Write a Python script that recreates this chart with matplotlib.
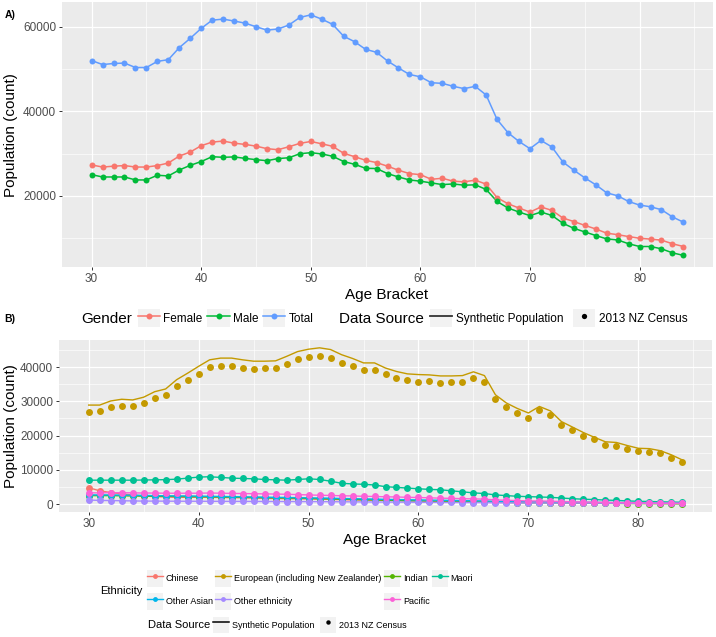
import numpy as np
import matplotlib
matplotlib.use("Agg")
import matplotlib.pyplot as plt
from matplotlib.lines import Line2D
from matplotlib.patches import Rectangle
from matplotlib.legend_handler import HandlerLine2D

plt.rcParams['font.family'] = ['Liberation Sans', 'DejaVu Sans']

# ---------------- data ----------------
ages = list(range(30, 85))

total = [52000, 51050, 51300, 51400, 50350, 50350, 51800, 52200, 55050, 57250,
         59600, 61550, 61800, 61350, 60850, 60000, 59200, 59450, 60400, 62200,
         62800, 61800, 60550, 57750, 56450, 54650, 53950, 51900, 50250, 48700,
         48150, 46750, 46600, 45900, 45350, 45900, 43850, 38050, 34900, 32850,
         31150, 33100, 31550, 28000, 26050, 24250, 22600, 20700, 20000, 18650,
         17800, 17400, 16700, 15000, 13750]
female = [27300, 26800, 27000, 27150, 26800, 26800, 27150, 27750, 29400, 30350,
          31850, 32700, 32950, 32450, 32150, 31750, 31150, 30900, 31600, 32400,
          32850, 32300, 31700, 30050, 29250, 28400, 27850, 27000, 26050, 25250,
          25000, 23900, 24150, 23450, 23300, 23700, 22750, 19550, 18100, 17100,
          16150, 17350, 16550, 14750, 13900, 13000, 12150, 11150, 10800, 10350,
          9950, 9750, 9500, 8650, 8000]
male = [25000, 24450, 24450, 24450, 23750, 23750, 24850, 24700, 26100, 27200,
        28100, 29250, 29100, 29200, 28850, 28550, 28300, 28800, 29000, 29950,
        30200, 29900, 29350, 28100, 27450, 26500, 26450, 25250, 24450, 23750,
        23450, 23050, 22650, 22800, 22500, 22600, 21500, 18650, 17100, 16150,
        15300, 16150, 15350, 13500, 12300, 11450, 10600, 9800, 9550, 8650,
        8000, 8000, 7450, 6500, 5900]

gender_names = ["Female", "Male", "Total"]
gender_colors = ["#F8766D", "#00BA38", "#619CFF"]

euro_synth = [28900, 28900, 30100, 30600, 30400, 31200, 32800, 33600, 36300, 38200,
              40200, 42100, 42600, 42600, 42100, 41700, 41700, 41800, 43100, 44500,
              45200, 45600, 45100, 43600, 42500, 41200, 41200, 39700, 38700, 38000,
              37800, 37700, 37400, 37400, 37500, 38600, 37500, 31900, 29500, 27900,
              26600, 28500, 27200, 24100, 22500, 20900, 19500, 18200, 18000, 17100,
              16300, 16200, 15600, 14400, 12900]
euro_census = [26950, 27150, 28200, 28700, 28700, 29600, 31100, 31700, 34400, 36100,
               37900, 40000, 40300, 40400, 39700, 39500, 39700, 39600, 41000, 42200,
               42900, 43300, 42600, 41200, 40400, 39200, 39200, 37900, 36900, 36200,
               35700, 35800, 35300, 35500, 35700, 36800, 35600, 30700, 28200, 26700,
               25200, 27400, 25900, 23000, 21700, 20000, 18900, 17400, 17000, 16000,
               15400, 15300, 14800, 13500, 12400]
chinese = [4800, 3900, 3400, 3000, 2700, 2400, 2200, 2100, 2000, 2000,
           2000, 2000, 1950, 1900, 1850, 1800, 1700, 1650, 1600, 1550,
           1500, 1450, 1400, 1300, 1250, 1200, 1150, 1100, 1050, 1000,
           950, 900, 850, 850, 800, 800, 750, 650, 600, 550,
           500, 500, 480, 450, 420, 400, 380, 350, 330, 310,
           300, 280, 260, 240, 220]
indian = [2500, 2500, 2500, 2450, 2400, 2350, 2300, 2300, 2250, 2200,
          2200, 2150, 2100, 2050, 2000, 1950, 1900, 1850, 1800, 1750,
          1700, 1600, 1550, 1450, 1400, 1300, 1250, 1150, 1100, 1000,
          950, 900, 850, 800, 750, 700, 650, 550, 500, 450,
          400, 400, 380, 340, 300, 280, 250, 230, 210, 190,
          170, 150, 140, 120, 100]
maori = [7000, 7000, 7000, 7000, 7000, 7050, 7100, 7150, 7300, 7600,
         7900, 8000, 7800, 7600, 7500, 7400, 7200, 7100, 7000, 7200,
         7400, 7200, 6700, 6100, 5900, 5800, 5600, 5100, 4900, 4700,
         4500, 4300, 4200, 3900, 3600, 3300, 3100, 2700, 2500, 2300,
         2200, 2100, 2000, 1800, 1600, 1450, 1350, 1200, 1100, 950,
         850, 780, 700, 620, 560]
other_asian = [2700, 2700, 2700, 2650, 2600, 2550, 2500, 2450, 2400, 2400,
               2350, 2300, 2250, 2200, 2150, 2100, 2050, 2000, 1950, 1900,
               1850, 1800, 1750, 1650, 1600, 1550, 1500, 1400, 1350, 1300,
               1250, 1200, 1150, 1100, 1050, 1000, 950, 850, 800, 750,
               700, 700, 650, 600, 580, 550, 520, 500, 480, 460,
               440, 420, 400, 380, 360]
other_eth = [1200, 1100, 1050, 1000, 950, 900, 900, 880, 860, 850,
             850, 840, 830, 820, 810, 800, 790, 780, 770, 760,
             750, 740, 720, 700, 680, 660, 640, 620, 600, 580,
             560, 540, 520, 500, 490, 480, 460, 420, 400, 380,
             360, 360, 350, 330, 320, 310, 300, 290, 280, 270,
             260, 250, 240, 230, 220]
pacific = [3300, 3300, 3350, 3350, 3300, 3250, 3250, 3200, 3200, 3200,
           3200, 3250, 3200, 3150, 3100, 3050, 3000, 2950, 2900, 2800,
           2700, 2600, 2550, 2450, 2400, 2300, 2250, 2150, 2100, 2000,
           1950, 1850, 1750, 1700, 1600, 1550, 1450, 1250, 1150, 1050,
           950, 950, 880, 780, 700, 640, 580, 520, 480, 440,
           400, 360, 330, 300, 270]

eth_names = ["Chinese", "European (including New Zealander)", "Indian", "Maori",
             "Other Asian", "Other ethnicity", "Pacific"]
eth_colors = ["#F8766D", "#C49A00", "#53B400", "#00C094", "#00B6EB", "#A58AFF", "#FB61D7"]
eth_synth = [chinese, euro_synth, indian, maori, other_asian, other_eth, pacific]
eth_census = [chinese, euro_census, indian, maori, other_asian, other_eth, pacific]

# ---------------- figure ----------------
W, H = 716, 637
fig = plt.figure(figsize=(W / 100, H / 100), dpi=100)
fig.patch.set_facecolor("white")


def px_axes(l, t, r, b):
    return fig.add_axes([l / W, 1 - b / H, (r - l) / W, (b - t) / H])


def style(ax):
    ax.set_facecolor("#EBEBEB")
    for s in ax.spines.values():
        s.set_visible(False)
    ax.grid(True, which="major", color="white", linewidth=0.9)
    ax.grid(True, which="minor", color="white", linewidth=0.45)
    ax.set_axisbelow(True)
    ax.tick_params(which="major", length=2.2, width=0.7, color="#333333",
                   labelsize=8.5, labelcolor="#4D4D4D", pad=2)
    ax.tick_params(which="minor", length=0)


# Panel A
axA = px_axes(62, 2, 713, 267)
style(axA)
for vals, col in zip([female, male, total], gender_colors):
    axA.plot(ages, vals, color=col, lw=1.1, zorder=3)
    axA.plot(ages, vals, "o", color=col, ms=4.3, mec="none", zorder=4)
axA.set_xlim(27.3, 86.7)
axA.set_ylim(3150, 65850)
axA.set_xticks([30, 40, 50, 60, 70, 80])
axA.set_xticks([35, 45, 55, 65, 75, 85], minor=True)
axA.set_yticks([20000, 40000, 60000])
axA.set_yticks([10000, 30000, 50000], minor=True)
axA.set_yticklabels(["20000", "40000", "60000"])

# Panel B
axB = px_axes(59, 340, 712, 512)
style(axB)
for vals, col in zip(eth_synth, eth_colors):
    axB.plot(ages, vals, color=col, lw=1.0, zorder=3)
for vals, col in zip(eth_census, eth_colors):
    axB.plot(ages, vals, "o", color=col, ms=5, mec="none", zorder=4)
axB.set_xlim(27.3, 86.7)
axB.set_ylim(-2280, 47880)
axB.set_xticks([30, 40, 50, 60, 70, 80])
axB.set_xticks([35, 45, 55, 65, 75, 85], minor=True)
axB.set_yticks([0, 10000, 20000, 30000, 40000])
axB.set_yticks([5000, 15000, 25000, 35000, 45000], minor=True)
axB.set_yticklabels(["0", "10000", "20000", "30000", "40000"])

# axis titles / panel tags
def ftext(x, y, s, **kw):
    fig.text(x / W, 1 - y / H, s, **kw)

ftext(5, 15, "A)", fontsize=7.5, fontweight="bold", va="center", ha="left")
ftext(4, 319, "B)", fontsize=7.5, fontweight="bold", va="center", ha="left")
ftext(11, 135, "Population (count)", fontsize=11, rotation=90, ha="center", va="center")
ftext(387, 295, "Age Bracket", fontsize=11, ha="center", va="center")
ftext(11, 426, "Population (count)", fontsize=11, rotation=90, ha="center", va="center")
ftext(385, 540, "Age Bracket", fontsize=11, ha="center", va="center")


class KeyHandler(HandlerLine2D):
    def create_artists(self, legend, orig_handle, xdescent, ydescent,
                       width, height, fontsize, trans):
        rect = Rectangle((-xdescent, -ydescent), width, height,
                         facecolor="#F2F2F2", edgecolor="none", transform=trans)
        arts = super().create_artists(legend, orig_handle, xdescent, ydescent,
                                      width, height, fontsize, trans)
        return [rect] + list(arts)


def make_legend(handles, labels, x, y, fs, ncol, hl, hh, tp, cs, ls=0.3):
    leg = fig.legend(handles, labels, loc="center left",
                     bbox_to_anchor=(x / W, 1 - y / H), ncol=ncol,
                     frameon=False, fontsize=fs, handlelength=hl,
                     handleheight=hh, handletextpad=tp, columnspacing=cs,
                     labelspacing=ls, borderpad=0, borderaxespad=0,
                     numpoints=1,
                     handler_map={Line2D: KeyHandler(numpoints=1)})
    return leg

# Panel A legends
ftext(81, 319, "Gender", fontsize=11, ha="left", va="center")
gh = [Line2D([], [], color=c, lw=1.1, marker="o", ms=4.3, mec="none") for c in gender_colors]
make_legend(gh, gender_names, 138, 318, 8.5, 3, 1.9, 1.9, 0.25, 0.4)

ftext(339, 319, "Data Source", fontsize=11, ha="left", va="center")
dh = [Line2D([], [], color="#333333", lw=1.3),
      Line2D([], [], color="black", lw=0, marker="o", ms=3.8, mec="none")]
make_legend(dh, ["Synthetic Population", "2013 NZ Census"], 430, 318, 8.5, 2,
            1.9, 1.9, 0.3, 0.8)

# Panel B legends
ftext(100, 591, "Ethnicity", fontsize=8, ha="left", va="center")
order = [0, 4, 1, 5, 2, 6, 3]
eh = [Line2D([], [], color=eth_colors[i], lw=1.0, marker="o", ms=3.5, mec="none") for i in order]
el = [eth_names[i] for i in order]
eh.append(Line2D([], [], color="none", lw=0))
el.append("")
legE = make_legend(eh, el, 147, 590, 6.5, 4, 1.8, 2.4, 0.3, 0.25, ls=0.75)
legE.legend_handles[-1].set_visible(False)

ftext(148, 625, "Data Source", fontsize=8, ha="left", va="center")
dh2 = [Line2D([], [], color="black", lw=1.1),
       Line2D([], [], color="black", lw=0, marker="o", ms=3.2, mec="none")]
make_legend(dh2, ["Synthetic Population", "2013 NZ Census"], 213, 625, 6.5, 2,
            1.8, 2.4, 0.3, 0.6)

fig.savefig("out.png", dpi=100)
